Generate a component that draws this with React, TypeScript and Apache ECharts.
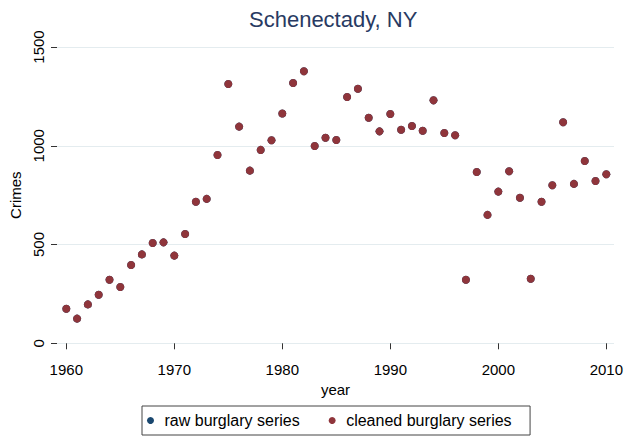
import React, { useEffect, useRef } from "react";
import * as echarts from "echarts";

const years = [
  1960, 1961, 1962, 1963, 1964, 1965, 1966, 1967, 1968, 1969,
  1970, 1971, 1972, 1973, 1974, 1975, 1976, 1977, 1978, 1979,
  1980, 1981, 1982, 1983, 1984, 1985, 1986, 1987, 1988, 1989,
  1990, 1991, 1992, 1993, 1994, 1995, 1996, 1997, 1998, 1999,
  2000, 2001, 2002, 2003, 2004, 2005, 2006, 2007, 2008, 2009, 2010,
];

const rawBurglary = [
  175, 125, 197, 246, 322, 285, 396, 450, 508, 511,
  444, 553, 717, 731, 953, 1313, 1097, 874, 979, 1028,
  1163, 1318, 1377, 999, 1041, 1029, 1247, 1289, 1142, 1073,
  1161, 1081, 1100, 1076, 1230, 1065, 1053, 322, 867, 650,
  768, 871, 737, 327, 717, 800, 1119, 807, 923, 822, 856,
];

const cleanedBurglary = [
  175, 125, 197, 246, 322, 285, 396, 450, 508, 511,
  444, 553, 717, 731, 953, 1313, 1097, 874, 979, 1028,
  1163, 1318, 1377, 999, 1041, 1029, 1247, 1289, 1142, 1073,
  1161, 1081, 1100, 1076, 1230, 1065, 1053, 322, 867, 650,
  768, 871, 737, 327, 717, 800, 1119, 807, 923, 822, 856,
];

const xTicks = [1960, 1970, 1980, 1990, 2000, 2010];
const yTicks = [0, 500, 1000, 1500];

const titleText = "Schenectady, NY";
const xName = "year";
const yName = "Crimes";
const seriesNames = ["raw burglary series", "cleaned burglary series"];

const FONT = '"Liberation Sans", Arial, Helvetica, sans-serif';
const NAVY = "#1a476f";
const MAROON = "#8f353b";

export default function App() {
  const ref = useRef<HTMLDivElement>(null);

  useEffect(() => {
    if (!ref.current) return;
    const chart = echarts.init(ref.current, undefined, { renderer: "svg" });
    const toPairs = (vals: number[]) => years.map((y, i) => [y, vals[i]]);
    chart.setOption({
      animation: false,
      backgroundColor: "#ffffff",
      textStyle: { fontFamily: FONT },
      title: {
        text: titleText,
        left: 249,
        top: 8,
        padding: 0,
        textStyle: { fontFamily: FONT, fontSize: 22, fontWeight: "normal", color: "#283a62" },
      },
      grid: { left: 57, right: 23, top: 47, bottom: 94.7, containLabel: false },
      xAxis: {
        type: "value",
        min: 1959.14,
        max: 2010.71,
        offset: 9,
        name: xName,
        nameLocation: "middle",
        nameGap: 27,
        nameTextStyle: { fontFamily: FONT, fontSize: 15, color: "#000" },
        axisLine: { show: false },
        axisTick: { show: true, length: 6, customValues: xTicks, lineStyle: { color: "#333", width: 1 } },
        axisLabel: {
          customValues: xTicks,
          margin: 10,
          fontSize: 15,
          color: "#000",
          fontFamily: FONT,
          formatter: (v: number) => String(v),
        },
        splitLine: { show: false },
      },
      yAxis: {
        type: "value",
        min: 0,
        max: 1500,
        interval: 500,
        name: yName,
        nameLocation: "middle",
        nameRotate: 90,
        nameGap: 31,
        nameTextStyle: { fontFamily: FONT, fontSize: 15, color: "#000" },
        axisLine: { show: false },
        axisTick: { show: true, length: 6, lineStyle: { color: "#333", width: 1 } },
        axisLabel: {
          rotate: 90,
          margin: 11,
          fontSize: 15,
          color: "#000",
          fontFamily: FONT,
          formatter: (v: number) => (yTicks.includes(v) ? String(v) : ""),
        },
        splitLine: { show: true, lineStyle: { color: "#e4ecef", width: 1 } },
      },
      legend: {
        left: 142,
        top: 406,
        orient: "horizontal",
        padding: [6.5, 18.5, 6.5, 5],
        itemGap: 29,
        itemWidth: 10,
        itemHeight: 7,
        icon: "circle",
        borderColor: "#444",
        borderWidth: 1,
        borderRadius: 0,
        textStyle: { fontFamily: FONT, fontSize: 16, color: "#000", padding: [0, 0, 0, 4] },
        data: seriesNames,
      },
      series: [
        {
          name: seriesNames[0],
          type: "scatter",
          clip: false,
          symbol: "circle",
          symbolSize: 8,
          itemStyle: { color: NAVY, opacity: 1 },
          data: toPairs(rawBurglary),
        },
        {
          name: seriesNames[1],
          type: "scatter",
          clip: false,
          symbol: "circle",
          symbolSize: 8,
          itemStyle: { color: MAROON, opacity: 1 },
          data: toPairs(cleanedBurglary),
        },
      ],
    });
    return () => chart.dispose();
  }, []);

  return (
    <div
      ref={ref}
      style={{ position: "fixed", left: 0, top: 0, width: 637, height: 438, background: "#fff" }}
    />
  );
}
